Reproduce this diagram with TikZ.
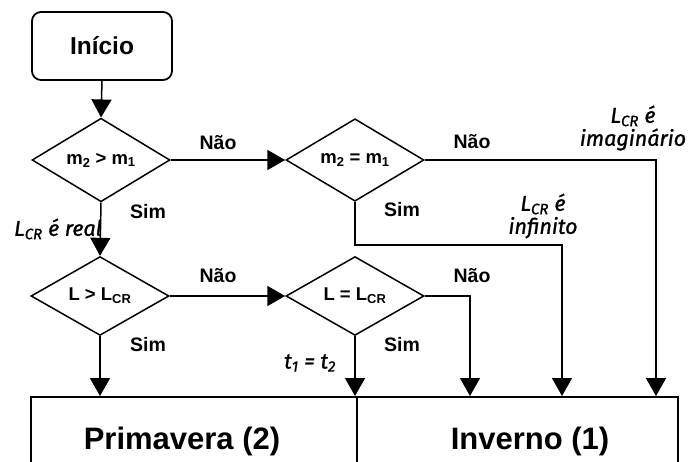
\documentclass[tikz,border=0pt]{standalone}
\usepackage{fontspec}
\setmainfont{Liberation Sans}
\newfontfamily\labelfont{Fira Sans}[ItalicFeatures={FakeBold=1.2}]
\usetikzlibrary{shapes.geometric,arrows.meta}

\begin{document}
\begin{tikzpicture}[x=1pt,y=-1pt,
  every node/.style={inner sep=0pt},
  flow/.style={line width=1.5pt},
  arr/.style={flow,-{Triangle[length=18pt,width=20pt]}},
  startbox/.style={draw,line width=1.8pt,rounded corners=9pt,minimum width=140pt,minimum height=68pt,font=\fontsize{24.5}{28}\selectfont\bfseries},
  test/.style={draw,line width=1.5pt,diamond,minimum width=138pt,minimum height=67pt,font=\fontsize{18.5}{20}\selectfont\bfseries},
  ans/.style={font=\fontsize{19.5}{22}\selectfont\bfseries},
  note/.style={font=\labelfont\itshape\fontsize{21.5}{23}\selectfont,align=center},
  season/.style={draw,line width=1.5pt,minimum height=100pt,anchor=north west},
  title/.style={font=\fontsize{31}{34}\selectfont\bfseries}]
\useasboundingbox (0,0) rectangle (688,462);
\clip (0,0) rectangle (688,462);

% start and decisions
\node[startbox] (start) at (102,46) {Início};
\node[test] (d1) at (101,160) {m\textsubscript{2} > m\textsubscript{1}};
\node[test] (d2) at (355,160) {m\textsubscript{2} = m\textsubscript{1}};
\node[test] (d3) at (100,296) {L > L\textsubscript{CR}};
\node[test] (d4) at (355,296) {L = L\textsubscript{CR}};

% outcome boxes (cut by the lower edge)
\node[season,minimum width=326pt] (prim) at (30,396) {};
\node[season,minimum width=321pt] (inv) at (356,396) {};
\node[title] (primtxt) at (182,441) {Primavera (2)};
\node[title] (invtxt) at (530,441) {Inverno (1)};

% free ends of the branches
\coordinate (c2) at (562,396);
\coordinate (c4) at (470,396);
\coordinate (c1) at (656,396);

% connectors
\draw[arr] (start.south) -- (d1.north);
\draw[arr] (d1.east) -- (d2.west);
\draw[arr] (d1.south) -- (d3.north);
\draw[arr] (d3.east) -- (d4.west);
\draw[arr] (d3.south) -- (d3.south |- prim.north);
\draw[arr] (d4.south) -- (d4.south |- inv.north);
\draw[arr] (d4.east) -| (c4);
\draw[arr] (d2.south) -- ++(0,43) -| (c2);
\draw[arr] (d2.east) -| (c1);

% branch labels
\node[ans] at (218,143) {Não};
\node[ans] at (148,212) {Sim};
\node[ans] at (472,142) {Não};
\node[ans] at (402,210) {Sim};
\node[ans] at (218,276) {Não};
\node[ans] at (148,345) {Sim};
\node[ans] at (472,276) {Não};
\node[ans] at (402,345) {Sim};

% notes
\node[note] at (58,229) {L\textsubscript{CR} é real};
\node[note] at (543,216) {L\textsubscript{CR} é\\infinito};
\node[note] at (633,128) {L\textsubscript{CR} é\\imaginário};
\node[note] at (310,363) {t\textsubscript{1} = t\textsubscript{2}};
\end{tikzpicture}
\end{document}
